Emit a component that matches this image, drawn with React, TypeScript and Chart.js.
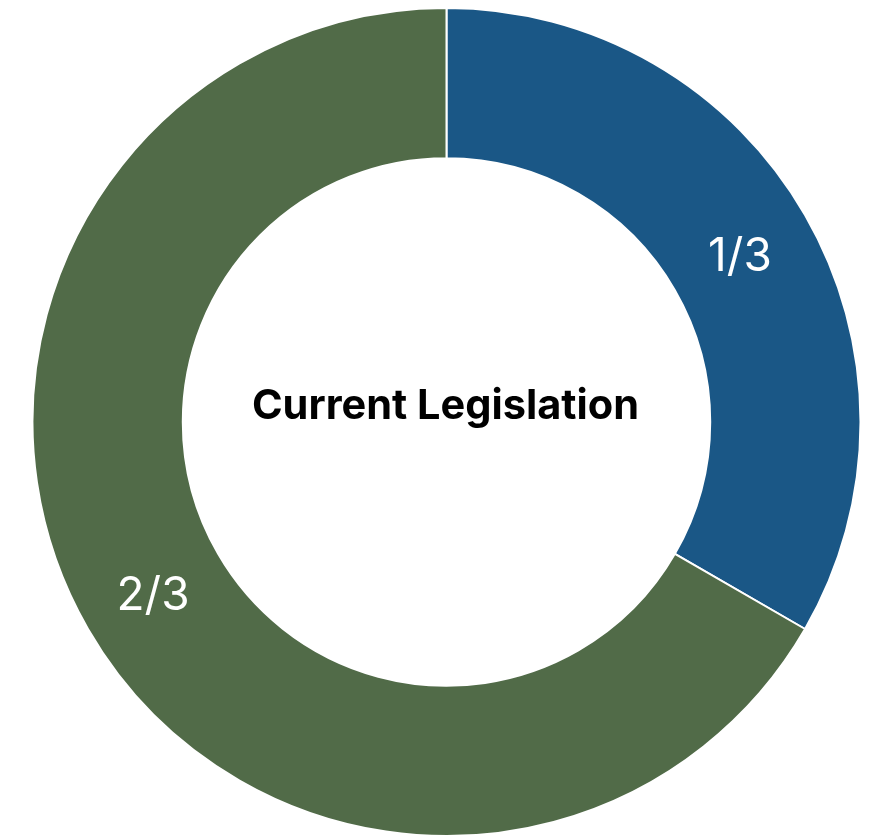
import React, { useEffect, useRef } from "react";
import { Chart, registerables } from "chart.js";

Chart.register(...registerables);

const categories: string[] = ["Share A", "Share B"];
const values: number[] = [1, 2];
const sliceLabels: string[] = ["1/3", "2/3"];
const colors: string[] = ["#1a5786", "#516b48"];
const centerTitle = "Current Legislation";

const labelPlugin = {
  id: "sliceLabels",
  afterDatasetsDraw(chart: any) {
    const ctx = chart.ctx;
    const meta = chart.getDatasetMeta(0);
    ctx.save();
    meta.data.forEach((arc: any, i: number) => {
      const p = arc.getCenterPoint();
      ctx.fillStyle = "#ffffff";
      ctx.font = "400 46px Inter, 'Noto Sans', sans-serif";
      ctx.textAlign = "center";
      ctx.textBaseline = "middle";
      ctx.fillText(sliceLabels[i], p.x, p.y + 5);
    });
    const a = meta.data[0];
    ctx.fillStyle = "#000000";
    ctx.font = "700 41.5px Inter, 'Noto Sans', sans-serif";
    ctx.textAlign = "center";
    ctx.textBaseline = "middle";
    ctx.fillText(centerTitle, a.x - 1, a.y - 15);
    ctx.restore();
  },
};

export default function App() {
  const ref = useRef<HTMLCanvasElement | null>(null);
  useEffect(() => {
    if (!ref.current) return;
    const chart = new Chart(ref.current, {
      type: "doughnut",
      data: {
        labels: categories,
        datasets: [
          {
            data: values,
            backgroundColor: colors,
            borderColor: "#ffffff",
            borderWidth: 2,
          },
        ],
      },
      options: {
        animation: false,
        responsive: false,
        cutout: "63.7%",
        layout: { padding: { left: 16, right: 0, top: 7, bottom: 0 } },
        plugins: { legend: { display: false }, tooltip: { enabled: false } },
      },
      plugins: [labelPlugin],
    });
    return () => chart.destroy();
  }, []);
  return (
    <div style={{ position: "absolute", left: 0, top: 0, width: 877, height: 837, background: "#fff" }}>
      <canvas ref={ref} width={877} height={837} style={{ width: 877, height: 837 }} />
    </div>
  );
}
